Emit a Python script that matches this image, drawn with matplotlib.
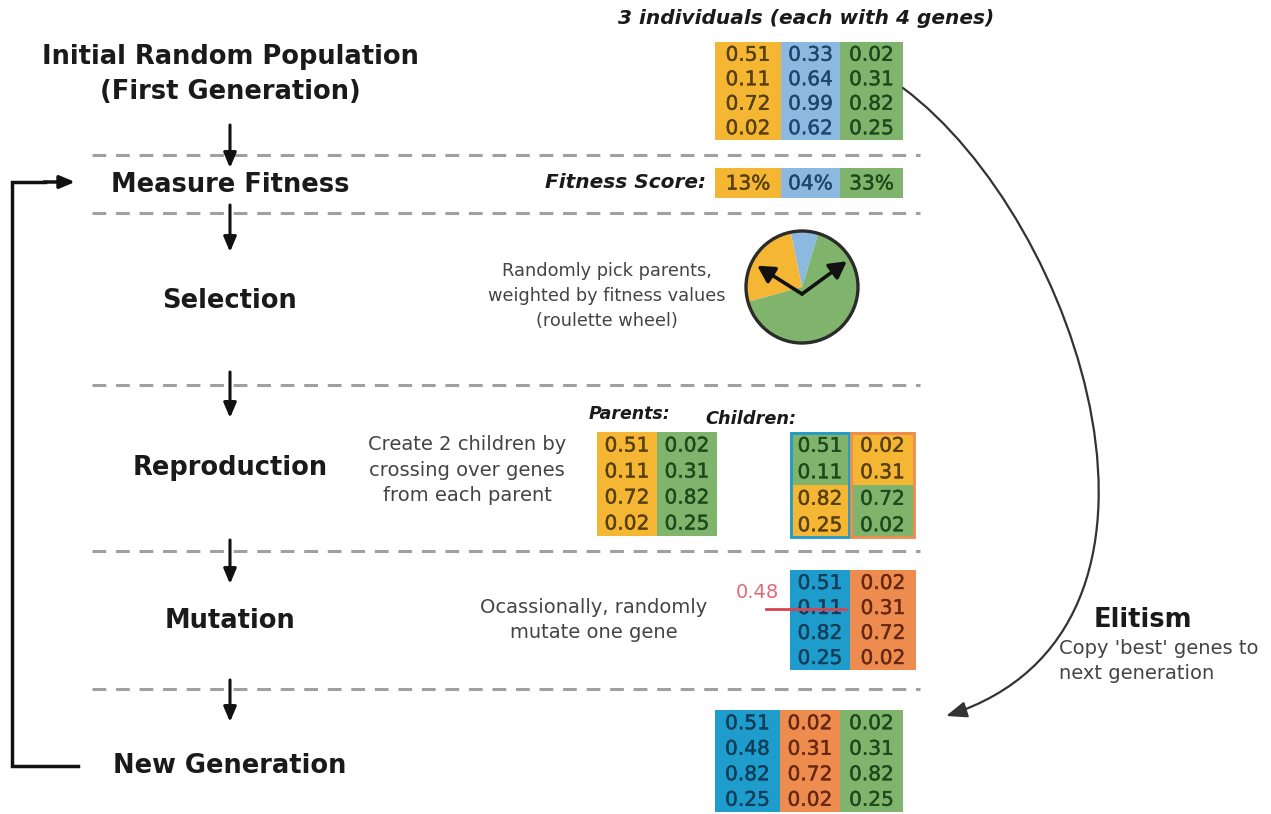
import matplotlib
matplotlib.use("Agg")
import matplotlib.pyplot as plt
from matplotlib.patches import Rectangle, FancyArrowPatch, Wedge, Circle
from matplotlib.path import Path
import matplotlib.patheffects as pe
import numpy as np

# ---------------- data ----------------
stages = ["Initial Random Population", "(First Generation)", "Measure Fitness", "Selection",
          "Reproduction", "Mutation", "New Generation"]
population = [[0.51, 0.11, 0.72, 0.02],
              [0.33, 0.64, 0.99, 0.62],
              [0.02, 0.31, 0.82, 0.25]]
fitness = [13, 4, 33]
fitness_labels = ["13%", "04%", "33%"]
parents = [[0.51, 0.11, 0.72, 0.02],
           [0.02, 0.31, 0.82, 0.25]]
children = [[0.51, 0.11, 0.82, 0.25],
            [0.02, 0.31, 0.72, 0.02]]
children_src = [["g", "g", "y", "y"], ["y", "y", "g", "g"]]
mutated = [[0.51, 0.11, 0.82, 0.25],
           [0.02, 0.31, 0.72, 0.02]]
mutation_value = 0.48
mutation_index = 1
new_generation = [[0.51, 0.48, 0.82, 0.25],
                  [0.02, 0.31, 0.72, 0.02],
                  [0.02, 0.31, 0.82, 0.25]]

# ---------------- style ----------------
FILL = {"y": "#f5b733", "b": "#8bb9df", "g": "#80b46c", "c": "#1e9dcc", "o": "#ee8c50"}
TXT = {"y": "#56400f", "b": "#1d476e", "g": "#1c4a1c", "c": "#113d59", "o": "#662810"}
FONT = "DejaVu Sans"

W, H = 1271, 814
fig = plt.figure(figsize=(W / 100, H / 100), dpi=100)
ax = fig.add_axes([0, 0, 1, 1])
ax.set_xlim(0, W)
ax.set_ylim(H, 0)
ax.axis("off")
fig.patch.set_facecolor("white")


def heavy(color):
    return [pe.withStroke(linewidth=0.3, foreground=color)]


def column(x0, y0, w, h, values, colors, fs=14.5, edge=None):
    n = len(values)
    for i, v in enumerate(values):
        c = colors[i] if isinstance(colors, list) else colors
        ax.add_patch(Rectangle((x0, y0 + i * h), w, h, facecolor=FILL[c], edgecolor="none", zorder=2))
        ax.text(x0 + w / 2, y0 + (i + 0.5) * h + 1, f"{v:.2f}", ha="center", va="center",
                fontsize=fs, color=TXT[c], family=FONT, zorder=3, path_effects=heavy(TXT[c]))
    if edge is not None:
        ax.add_patch(Rectangle((x0 + 1, y0 + 1), w - 2, n * h - 2, facecolor="none",
                               edgecolor=edge, lw=2, zorder=4))


# ---------------- left flow ----------------
stage_y = [57, 92, 185, 301, 468, 621, 766]
for s, y in zip(stages, stage_y):
    ax.text(230, y, s, ha="center", va="center", fontsize=18.5, fontweight="bold",
            family=FONT, color="#1a1a1a")

dash_y = [155, 213, 385, 551, 689]
for y in dash_y:
    ax.plot([92, 920], [y, y], color="#a0a0a0", lw=2.2, dashes=(4.5, 3.2), zorder=1)

arrows = [(125, 168), (205, 252), (372, 418), (540, 584), (680, 722)]
for y0, y1 in arrows:
    ax.annotate("", xy=(230, y1), xytext=(230, y0),
                arrowprops=dict(arrowstyle="-|>,head_length=0.9,head_width=0.38", lw=2.2,
                                color="#111111", shrinkA=0, shrinkB=0), zorder=5)

# feedback loop
ax.plot([78, 12, 12, 45], [766, 766, 182, 182], color="#111111", lw=2.5,
        solid_joinstyle="miter", zorder=5)
ax.annotate("", xy=(75, 182), xytext=(44, 182),
            arrowprops=dict(arrowstyle="-|>,head_length=0.9,head_width=0.38", lw=2.5,
                            color="#111111", shrinkA=0, shrinkB=0), zorder=5)

# ---------------- initial population ----------------
ax.text(806, 18, "3 individuals (each with 4 genes)", ha="center", va="center", fontsize=14.5,
        fontweight="bold", style="italic", family=FONT, color="#1a1a1a")
pop_x = [715, 781, 840]
pop_w = [66, 59, 63]
pop_c = ["y", "b", "g"]
for x, w, c, vals in zip(pop_x, pop_w, pop_c, population):
    column(x, 42, w, 24.5, vals, c)

# fitness
ax.text(706, 183, "Fitness Score:", ha="right", va="center", fontsize=14.5, fontweight="bold",
        style="italic", family=FONT, color="#1a1a1a")
for x, w, c, lab in zip(pop_x, pop_w, pop_c, fitness_labels):
    ax.add_patch(Rectangle((x, 168), w, 30, facecolor=FILL[c], edgecolor="none", zorder=2))
    ax.text(x + w / 2, 184, lab, ha="center", va="center", fontsize=14.5, color=TXT[c],
            family=FONT, zorder=3, path_effects=heavy(TXT[c]))

# ---------------- selection (roulette) ----------------
ax.text(607, 296, "Randomly pick parents,\nweighted by fitness values\n(roulette wheel)",
        ha="center", va="center", fontsize=12.8, family=FONT, color="#444444", linespacing=1.5)
cx, cy, r = 802, 287, 56
tot = sum(fitness)
order = [(fitness[1], "b"), (fitness[0], "y"), (fitness[2], "g")]
ang = 73.0
for val, c in order:
    span = 360.0 * val / tot
    ax.add_patch(Wedge((cx, cy), r, -(ang + span), -ang, facecolor=FILL[c], edgecolor="none", zorder=2))
    ang += span
ax.add_patch(Circle((cx, cy), r, facecolor="none", edgecolor="#2b2b2b", lw=2.4, zorder=3))
for tip in [(-0.8, -0.38), (0.8, -0.46)]:
    ax.annotate("", xy=(cx + tip[0] * r, cy + tip[1] * r), xytext=(cx, cy + 7),
                arrowprops=dict(arrowstyle="-|>,head_length=1.0,head_width=0.55", lw=2.6,
                                color="#111111", shrinkA=0, shrinkB=0), zorder=5)

# ---------------- reproduction ----------------
ax.text(467, 470, "Create 2 children by\ncrossing over genes\nfrom each parent", ha="center",
        va="center", fontsize=14, family=FONT, color="#444444", linespacing=1.45)
ax.text(589, 414, "Parents:", ha="left", va="center", fontsize=12.5, fontweight="bold",
        style="italic", family=FONT, color="#1a1a1a")
ax.text(705, 419, "Children:", ha="left", va="center", fontsize=12.8, fontweight="bold",
        style="italic", family=FONT, color="#1a1a1a")
column(597, 432, 60, 26, parents[0], "y")
column(657, 432, 60, 26, parents[1], "g")
column(790, 432, 60, 26.5, children[0], children_src[0], edge=FILL["c"])
column(850, 432, 65, 26.5, children[1], children_src[1], edge=FILL["o"])

# ---------------- mutation ----------------
ax.text(594, 620, "Ocassionally, randomly\nmutate one gene", ha="center", va="center",
        fontsize=14, family=FONT, color="#444444", linespacing=1.45)
column(790, 570, 60, 25, mutated[0], "c")
column(850, 570, 66, 25, mutated[1], "o")
ax.text(757, 593, f"{mutation_value:.2f}", ha="center", va="center", fontsize=14,
        family=FONT, color="#e06a78", zorder=6)
ym = 570 + (mutation_index + 0.5) * 25 + 1
ax.plot([766, 846], [ym, ym], color="#d9434f", lw=2, zorder=6)

# ---------------- new generation ----------------
ng_x = [715, 780, 840]
ng_w = [65, 60, 63]
for x, w, c, vals in zip(ng_x, ng_w, ["c", "o", "g"], new_generation):
    column(x, 710, w, 25.5, vals, c)

# ---------------- elitism ----------------
verts = [(903, 88), (1080, 220), (1215, 630), (946, 716)]
path = Path(verts, [Path.MOVETO, Path.CURVE4, Path.CURVE4, Path.CURVE4])
ax.add_patch(FancyArrowPatch(path=path, arrowstyle="-|>,head_length=0.9,head_width=0.35",
                             mutation_scale=14, lw=1.6, color="#333333", zorder=5))
ax.text(1143, 620, "Elitism", ha="center", va="center", fontsize=18.5, fontweight="bold",
        family=FONT, color="#1a1a1a")
ax.text(1059, 661, "Copy 'best' genes to\nnext generation", ha="left", va="center",
        fontsize=14, family=FONT, color="#444444", linespacing=1.45)

fig.savefig("out.png", dpi=100, facecolor="white")
